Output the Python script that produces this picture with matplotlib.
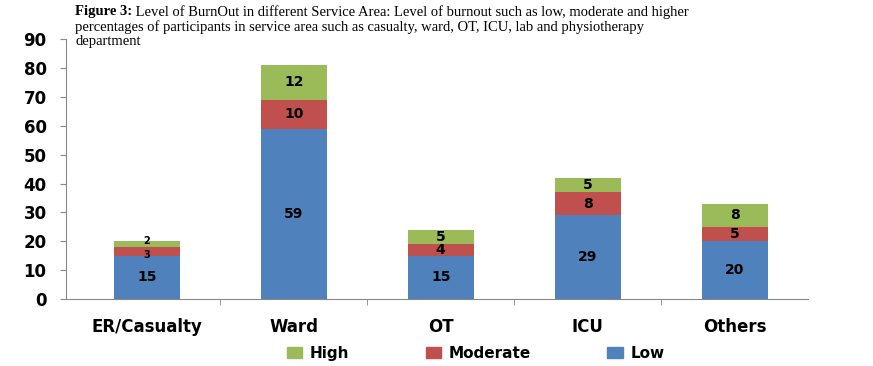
import numpy as np
import matplotlib.pyplot as plt
from matplotlib.patches import Patch

categories = ['ER/Casualty', 'Ward', 'OT', 'ICU', 'Others']
low = [15, 59, 15, 29, 20]
moderate = [3, 10, 4, 8, 5]
high = [2, 12, 5, 5, 8]

c_low = '#4F81BD'
c_mod = '#C0504D'
c_high = '#9BBB59'

fig = plt.figure(figsize=(8.73, 3.66), dpi=100)
ax = fig.add_axes([0.0756, 0.183, 0.85, 0.71])

x = np.arange(len(categories))
w = 0.45
ax.bar(x, low, w, color=c_low)
ax.bar(x, moderate, w, bottom=low, color=c_mod)
bot2 = np.array(low) + np.array(moderate)
ax.bar(x, high, w, bottom=bot2, color=c_high)


def put(xi, y, v, dy=0):
    # tiny segments get a smaller, nudged label so neighbours do not collide
    fs = 10 if v >= 4 else 7
    if v >= 4:
        dy = 0
    ax.annotate(str(v), xy=(xi, y), xytext=(0, dy), textcoords='offset points',
                ha='center', va='center', fontsize=fs, fontweight='bold', color='black')


for i in range(len(categories)):
    put(x[i], low[i] / 2, low[i])
    put(x[i], low[i] + moderate[i] / 2, moderate[i], -2.5)
    put(x[i], bot2[i] + high[i] / 2, high[i], 2.5)

ax.set_xlim(-0.55, 4.5)
ax.set_ylim(0, 90)
ax.set_yticks(range(0, 91, 10))
ax.set_xticks(x)
ax.set_xticklabels(categories, fontsize=12, fontweight='bold')
ax.set_xticks(np.arange(0.5, 4.5, 1), minor=True)
ax.tick_params(axis='x', which='major', length=0, pad=14)
ax.tick_params(axis='x', which='minor', length=4, color='#888888')
ax.tick_params(axis='y', length=4, color='#888888', pad=10)
for t in ax.get_yticklabels():
    t.set_fontsize(12)
    t.set_fontweight('bold')
for s in ['top', 'right']:
    ax.spines[s].set_visible(False)
for s in ['left', 'bottom']:
    ax.spines[s].set_color('#888888')

handles = [Patch(color=c_high), Patch(color=c_mod), Patch(color=c_low)]
fig.legend(handles, ['High', 'Moderate', 'Low'], loc='center', bbox_to_anchor=(0.545, 0.035),
           ncol=3, frameon=False, prop={'weight': 'bold', 'size': 11},
           handlelength=1.0, handleheight=0.7, columnspacing=5, handletextpad=0.5)

# caption above the chart
tf = dict(fontsize=10.5, family='Liberation Serif', va='top')
t1 = fig.text(0.086, 0.985, 'Figure 3:', fontweight='bold', **tf)
ax.annotate(' Level of BurnOut in different Service Area: Level of burnout such as low, moderate and higher',
            xy=(1, 1), xycoords=t1, ha='left', **tf)
fig.text(0.086, 0.945, 'percentages of participants in service area such as casualty, ward, OT, ICU, lab and physiotherapy', **tf)
fig.text(0.086, 0.905, 'department', **tf)

fig.savefig('out.png', dpi=100)
